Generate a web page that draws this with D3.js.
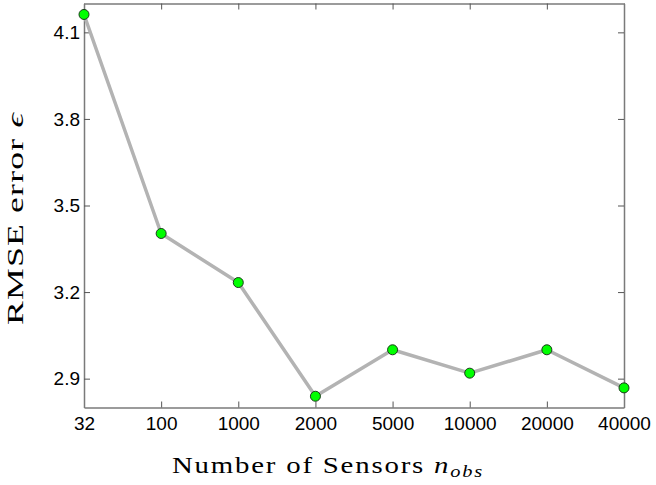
<!DOCTYPE html>
<html><head><meta charset="utf-8">
<script src="https://cdn.jsdelivr.net/npm/d3@7"></script>
<style>body{margin:0;background:#fff}svg{display:block}</style>
</head><body>
<script>
const categories = ["32","100","1000","2000","5000","10000","20000","40000"];
const rmse = [4.162, 3.403, 3.233, 2.839, 3.0, 2.919, 3.0, 2.868];
const yTicks = [2.9, 3.2, 3.5, 3.8, 4.1];

const W = 656, H = 485;
const m = {left: 84, right: 32, top: 3.5, bottom: 77.5};
const svg = d3.select("body").append("svg").attr("width", W).attr("height", H);
const x = d3.scalePoint().domain(categories).range([m.left, W - m.right]);
const y = d3.scaleLinear().domain([2.8, 4.2]).range([H - m.bottom, m.top]);
const axisColor = "#7a7a7a";
const tickFont = "'Liberation Sans', Arial, sans-serif";

function styleAxis(g, showLabels) {
  g.select(".domain").attr("stroke", axisColor).attr("stroke-width", 1.5);
  g.selectAll(".tick line").attr("stroke", "#555").attr("stroke-width", 1);
  g.selectAll(".tick text").attr("font-family", tickFont).attr("font-size", 19).attr("fill", "#000");
  if (!showLabels) g.selectAll(".tick text").remove();
}

// bottom
svg.append("g").attr("transform", `translate(0,${H - m.bottom})`)
  .call(d3.axisBottom(x).tickSizeInner(-6).tickSizeOuter(0).tickPadding(9))
  .call(g => styleAxis(g, true));
// top
svg.append("g").attr("transform", `translate(0,${m.top})`)
  .call(d3.axisTop(x).tickSizeInner(-6).tickSizeOuter(0))
  .call(g => styleAxis(g, false));
// left
svg.append("g").attr("transform", `translate(${m.left},0)`)
  .call(d3.axisLeft(y).tickValues(yTicks).tickFormat(d3.format(".1f")).tickSizeInner(-6).tickSizeOuter(0).tickPadding(4))
  .call(g => styleAxis(g, true));
// right
svg.append("g").attr("transform", `translate(${W - m.right},0)`)
  .call(d3.axisRight(y).tickValues(yTicks).tickSizeInner(-6).tickSizeOuter(0))
  .call(g => styleAxis(g, false));

const line = d3.line().x((d, i) => x(categories[i])).y(d => y(d));
svg.append("path").datum(rmse).attr("d", line)
  .attr("fill", "none").attr("stroke", "#b3b3b3").attr("stroke-width", 3.5).attr("stroke-linejoin", "round");

svg.selectAll("circle.pt").data(rmse).join("circle").attr("class", "pt")
  .attr("cx", (d, i) => x(categories[i])).attr("cy", d => y(d)).attr("r", 5)
  .attr("fill", "#00ff00").attr("stroke", "#1a3a1a").attr("stroke-width", 1);

const serif = "'Liberation Serif', 'DejaVu Serif', serif";
const xl = svg.append("text").attr("x", 172).attr("y", 473)
  .attr("font-family", serif).attr("font-size", 24).attr("fill", "#000")
  .attr("letter-spacing", 1.5)
  .attr("textLength", 312).attr("lengthAdjust", "spacingAndGlyphs");
xl.append("tspan").text("Number of Sensors ");
xl.append("tspan").attr("font-style", "italic").text("n");
xl.append("tspan").attr("font-style", "italic").attr("font-size", 17).attr("dy", 4).text("obs");

const yl = svg.append("text").attr("transform", `translate(23,325) rotate(-90)`)
  .attr("font-family", serif).attr("font-size", 24).attr("fill", "#000")
  .attr("letter-spacing", 0.8)
  .attr("textLength", 213).attr("lengthAdjust", "spacingAndGlyphs");
yl.append("tspan").text("RMSE error  ");
yl.append("tspan").attr("font-style", "italic").text("ϵ");
</script>
</body></html>
